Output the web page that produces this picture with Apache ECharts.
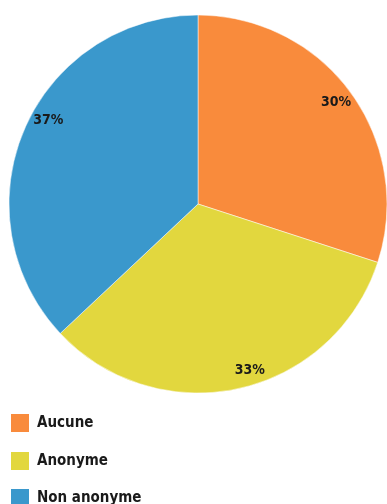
<!DOCTYPE html>
<html><head><meta charset="utf-8">
<script src="https://cdn.jsdelivr.net/npm/echarts@6/dist/echarts.min.js"></script>
<style>html,body{margin:0;padding:0;background:#fff}#c{width:387px;height:504px}</style>
</head><body><div id="c"></div>
<script>
const categories = ['Aucune', 'Anonyme', 'Non anonyme'];
const values = [30, 33, 37];
const colors = ['#F98B3C', '#E2D73E', '#3A98CC'];
const legendTops = [412, 450, 487];
const labelNudge = [[-2, 0], [14, -2], [9, -15]];

const LFONT = "'Liberation Sans Narrow', 'DejaVu Sans Condensed', sans-serif";
const FONT = "'DejaVu Sans Condensed', sans-serif";
const data = categories.map((n, i) => ({ name: n, value: values[i], itemStyle: { color: colors[i] } }));

const chart = echarts.init(document.getElementById('c'));
chart.setOption({
  animation: false,
  backgroundColor: '#fff',
  legend: categories.map((n, i) => ({
    data: [n],
    orient: 'vertical',
    left: 9, top: legendTops[i],
    icon: 'rect',
    padding: 0,
    itemWidth: 20, itemHeight: 20,
    textStyle: { fontFamily: LFONT, fontWeight: 'bold', fontSize: 15, color: '#1a1a1a', padding: [0, 0, 0, 2] }
  })),
  series: [
    {
      type: 'pie',
      center: [198, 204],
      radius: [0, 189],
      startAngle: 90,
      clockwise: true,
      label: { show: false },
      labelLine: { show: false },
      itemStyle: { borderColor: '#fff', borderWidth: 0.5 },
      emphasis: { disabled: true },
      data: data
    },
    {
      type: 'pie',
      center: [198, 204],
      radius: [151, 189],
      startAngle: 90,
      clockwise: true,
      silent: true,
      legendHoverLink: false,
      itemStyle: { color: 'rgba(0,0,0,0)', borderWidth: 0 },
      label: {
        show: true, position: 'inside',
        formatter: p => p.value + '%',
        fontFamily: FONT, fontWeight: 'bold', fontSize: 14, color: '#1a1a1a'
      },
      labelLine: { show: false },
      data: categories.map((n, i) => ({ name: n + ' ', value: values[i], label: { offset: labelNudge[i] } }))
    }
  ]
});
</script></body></html>
